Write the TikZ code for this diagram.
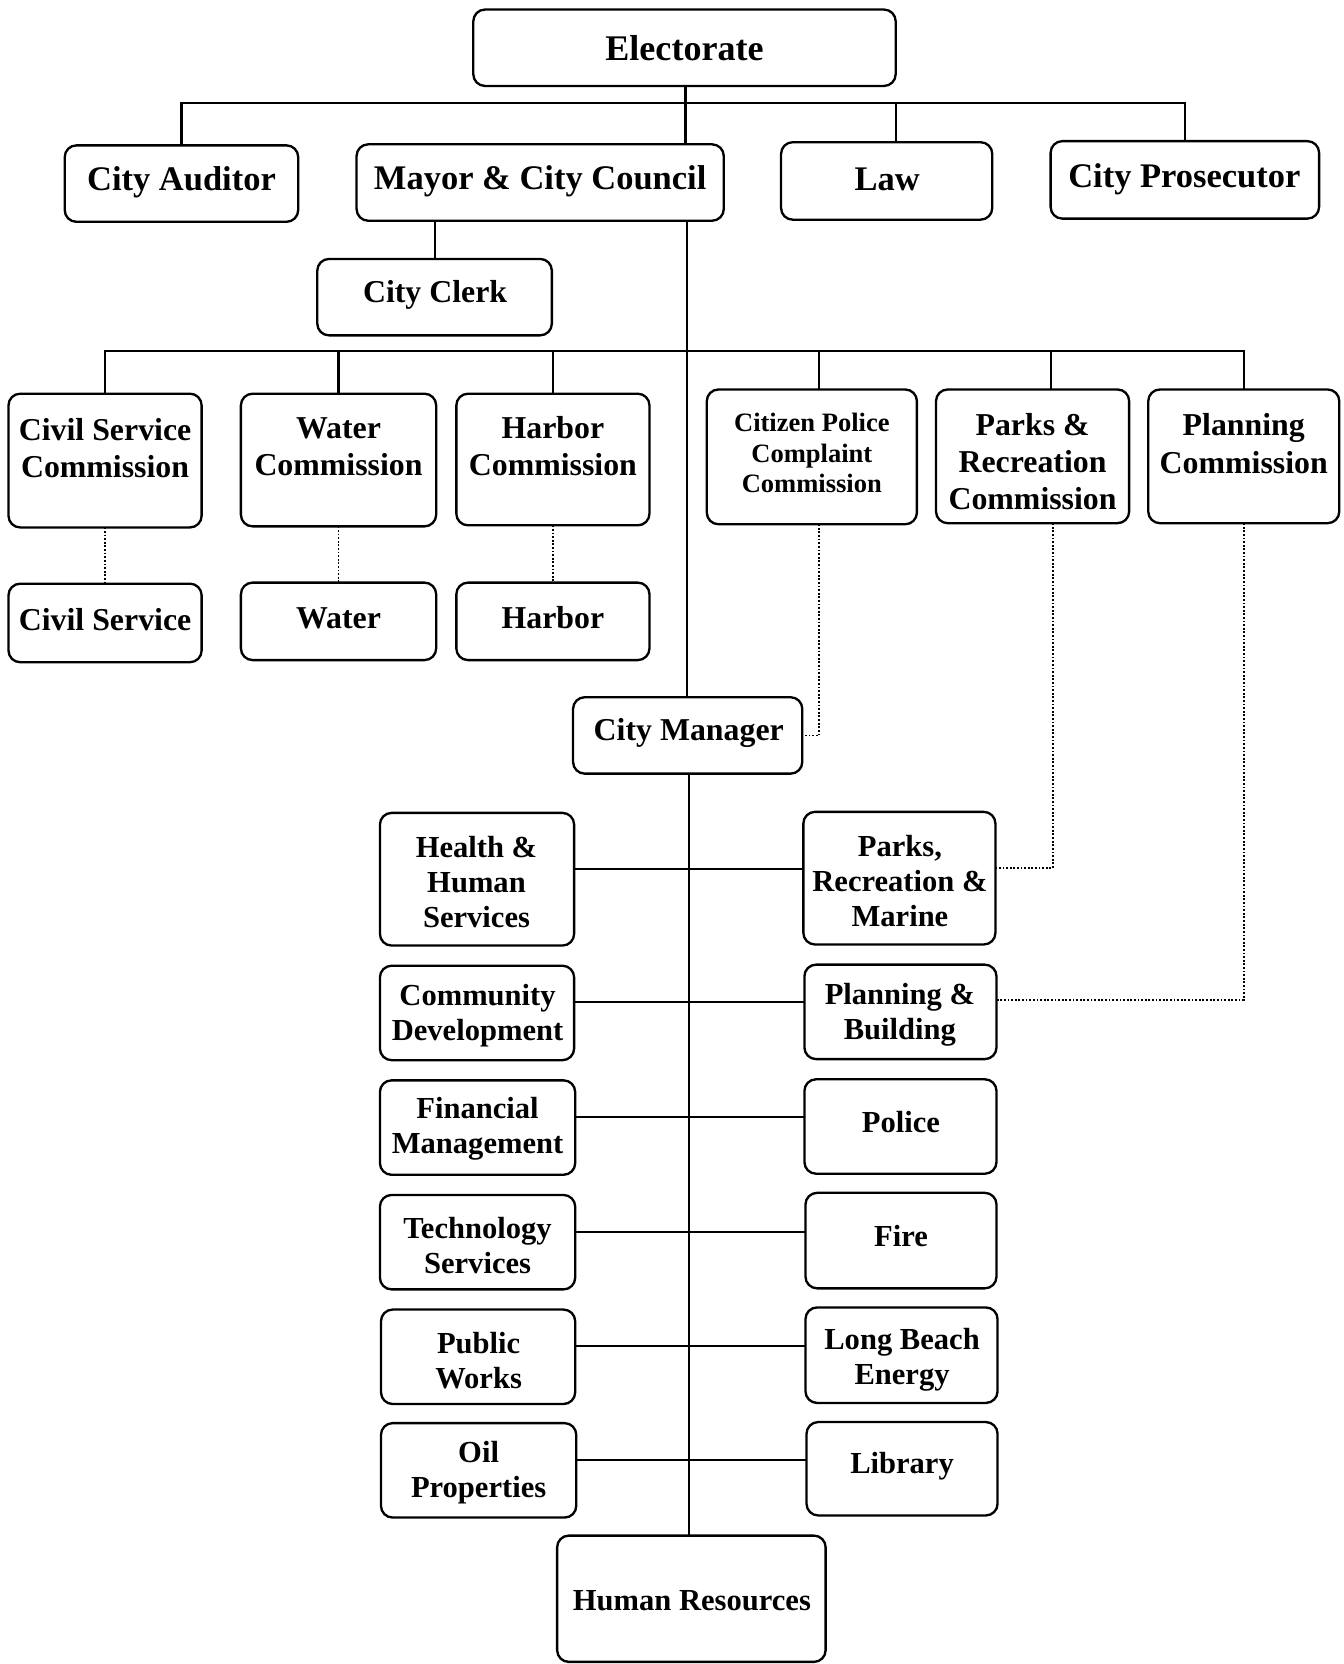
\documentclass[tikz,border=0pt]{standalone}
\usepackage{fontspec}
\setmainfont{Liberation Serif}
\begin{document}
\begin{tikzpicture}[x=1pt,y=-1pt,
  box/.style={draw, line width=2.2pt, rounded corners=11pt, inner sep=0pt, outer sep=0pt},
  conn/.style={line width=2pt},
  dotl/.style={line width=1.7pt, dash pattern=on 1.7pt off 1.7pt},
  lbl/.style={align=center, inner sep=0pt},
  fA/.style={lbl, font=\fontsize{34}{38}\selectfont\bfseries},
  fB/.style={lbl, font=\fontsize{32.5}{36}\selectfont\bfseries},
  fC/.style={lbl, font=\fontsize{30}{35}\selectfont\bfseries},
  fD/.style={lbl, font=\fontsize{28.8}{33}\selectfont\bfseries},
  fE/.style={lbl, font=\fontsize{25}{29}\selectfont\bfseries}]
\useasboundingbox (0,0) rectangle (1266,1568);
% boxes
\node[box, minimum width=398, minimum height=72] (elec)  at (645,45) {};
\node[box, minimum width=220, minimum height=72] (aud)   at (171,173) {};
\node[box, minimum width=346, minimum height=72] (mayor) at (509,172) {};
\node[box, minimum width=199, minimum height=73] (law)   at (835.5,170.5) {};
\node[box, minimum width=253, minimum height=73] (pros)  at (1116.5,169.5) {};
\node[box, minimum width=221, minimum height=72] (clerk) at (409.5,280) {};
\node[box, minimum width=182, minimum height=126] (csc)  at (99,434) {};
\node[box, minimum width=184, minimum height=125] (wc)   at (319,433.5) {};
\node[box, minimum width=182, minimum height=124] (hc)   at (521,433) {};
\node[box, minimum width=198, minimum height=127] (cpcc) at (765,430.5) {};
\node[box, minimum width=182, minimum height=126] (prc)  at (973,430) {};
\node[box, minimum width=180, minimum height=126] (pc)   at (1172,430) {};
\node[box, minimum width=182, minimum height=74] (cs)    at (99,587) {};
\node[box, minimum width=184, minimum height=73] (wat)   at (319,585.5) {};
\node[box, minimum width=182, minimum height=73] (har)   at (521,585.5) {};
\node[box, minimum width=216, minimum height=72] (mgr)   at (648,693) {};
\node[box, minimum width=183, minimum height=125] (hhs)  at (449.5,828.5) {};
\node[box, minimum width=181, minimum height=125] (prm)  at (847.5,827.5) {};
\node[box, minimum width=183, minimum height=89] (cd)    at (449.5,954.5) {};
\node[box, minimum width=181, minimum height=89] (pb)    at (848.5,953.5) {};
\node[box, minimum width=184, minimum height=89] (fm)    at (450,1062.5) {};
\node[box, minimum width=181, minimum height=89] (pol)   at (848.5,1061.5) {};
\node[box, minimum width=184, minimum height=89] (ts)    at (450,1170.5) {};
\node[box, minimum width=180, minimum height=90] (fire)  at (849,1169) {};
\node[box, minimum width=183, minimum height=89] (pw)    at (450.5,1278.5) {};
\node[box, minimum width=181, minimum height=90] (lbe)   at (849.5,1277) {};
\node[box, minimum width=184, minimum height=89] (op)    at (451,1385.5) {};
\node[box, minimum width=180, minimum height=88] (lib)   at (850,1384) {};
\node[box, minimum width=253, minimum height=119] (hr)   at (651.5,1506.5) {};
% texts
\node[fA] (t-elec)  at (645,45)  {Electorate};
\node[fB] (t-aud)   at (171,172) {City Auditor};
\node[fB] (t-mayor) at (509,171) {Mayor \& City Council};
\node[fB] (t-law)   at (836,169) {Law};
\node[fB] (t-pros)  at (1116,169) {City Prosecutor};
\node[fC] (t-clerk) at (410,278) {City Clerk};
\node[fC] (t-csc)   at (99,422)  {Civil Service\\Commission};
\node[fC] (t-wc)    at (319,421) {Water\\Commission};
\node[fC] (t-hc)    at (521,420) {Harbor\\Commission};
\node[fE] (t-cpcc)  at (765,427) {Citizen Police\\Complaint\\Commission};
\node[fC] (t-prc)   at (973,435) {Parks \&\\Recreation\\Commission};
\node[fC] (t-pc)    at (1172,418) {Planning\\Commission};
\node[fC] (t-cs)    at (99,584)  {Civil Service};
\node[fC] (t-wat)   at (319,583) {Water};
\node[fC] (t-har)   at (521,582) {Harbor};
\node[fC] (t-mgr)   at (649,691) {City Manager};
\node[fD] (t-hhs)   at (449,831) {Health \&\\Human\\Services};
\node[fD] (t-prm)   at (848,830) {Parks,\\Recreation \&\\Marine};
\node[fD] (t-cd)    at (450,957) {Community\\Development};
\node[fD] (t-pb)    at (848,956) {Planning \&\\Building};
\node[fD] (t-fm)    at (450,1064) {Financial\\Management};
\node[fD] (t-pol)   at (849,1057) {Police};
\node[fD] (t-ts)    at (450,1174) {Technology\\Services};
\node[fD] (t-fire)  at (849,1165) {Fire};
\node[fD] (t-pw)    at (451,1282) {Public\\Works};
\node[fD] (t-lbe)   at (850,1281) {Long Beach\\Energy};
\node[fD] (t-op)    at (451,1388) {Oil\\Properties};
\node[fD] (t-lib)   at (850,1382) {Library};
\node[fD] (t-hr)    at (652,1508) {Human Resources};
% helper coordinates
\coordinate (b1) at (646,97);
\coordinate (b2) at (647,331);
\coordinate (tk) at (647,0);
\coordinate (tk2) at (649,0);
% top level connectors
\draw[conn] (elec.south -| b1) -- (b1 |- mayor.north);
\draw[conn] (aud.north) |- (b1) -| (pros.north);
\draw[conn] ([xshift=8.5pt]law.north) -- ([xshift=8.5pt]law.north |- b1);
\draw[conn] (clerk.north) -- (clerk.north |- mayor.south);
\draw[conn] (mayor.south -| tk) -- (mgr.north -| tk);
\draw[conn] (csc.north) |- (b2) -| (pc.north);
\draw[conn] (wc.north) -- (wc.north |- b2);
\draw[conn] (hc.north) -- (hc.north |- b2);
\draw[conn] ([xshift=7pt]cpcc.north) -- ([xshift=7pt]cpcc.north |- b2);
\draw[conn] ([xshift=17pt]prc.north) -- ([xshift=17pt]prc.north |- b2);
% dotted links
\draw[dotl] (csc.south) -- (cs.north);
\draw[dotl] (wc.south) -- (wat.north);
\draw[dotl] (hc.south) -- (har.north);
\draw[dotl] ([xshift=7pt]cpcc.south) |- (mgr.east);
\draw[dotl] ([xshift=19pt]prc.south) |- ([yshift=9.5pt]prm.east);
\draw[dotl] (pc.south) |- ([yshift=11.5pt]pb.east);
% city manager trunk
\draw[conn] (mgr.south -| tk2) -- (hr.north -| tk2);
\draw[conn] ([yshift=10pt]hhs.east) -- ([yshift=10pt]hhs.east -| prm.west);
\draw[conn] ([yshift=10pt]cd.east) -- ([yshift=10pt]cd.east -| pb.west);
\draw[conn] ([yshift=10pt]fm.east) -- ([yshift=10pt]fm.east -| pol.west);
\draw[conn] ([yshift=10pt]ts.east) -- ([yshift=10pt]ts.east -| fire.west);
\draw[conn] ([yshift=10pt]pw.east) -- ([yshift=10pt]pw.east -| lbe.west);
\draw[conn] ([yshift=10pt]op.east) -- ([yshift=10pt]op.east -| lib.west);
\end{tikzpicture}
\end{document}
